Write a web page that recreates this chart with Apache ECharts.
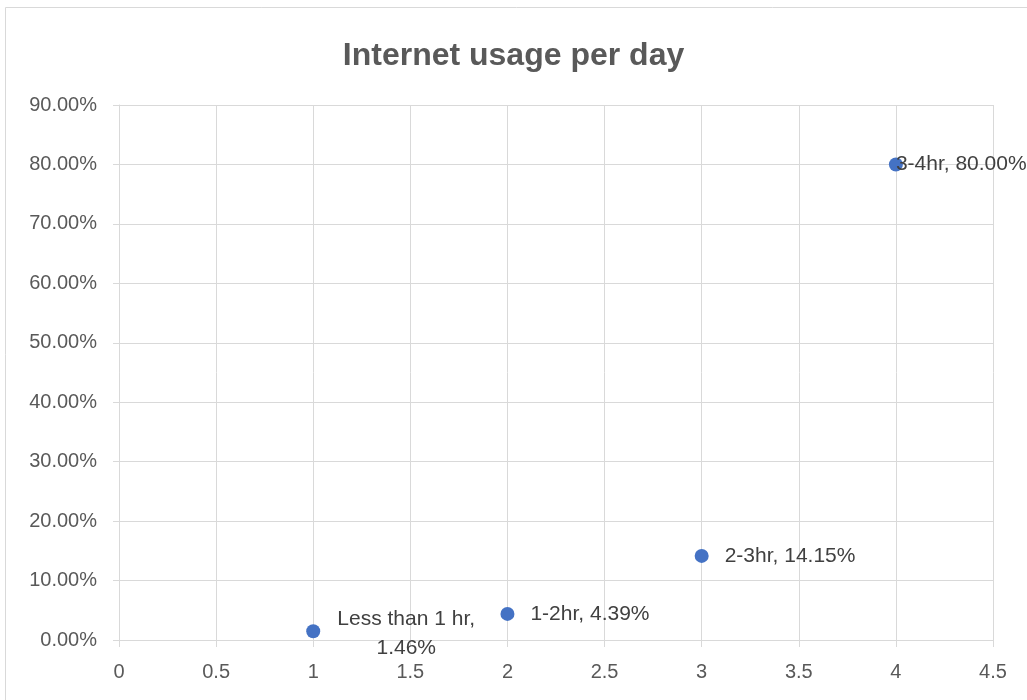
<!DOCTYPE html>
<html>
<head>
<meta charset="utf-8">
<script src="https://cdn.jsdelivr.net/npm/echarts@6/dist/echarts.min.js"></script>
<style>
  html, body { margin: 0; padding: 0; background: #fff; }
  #chart { width: 1027px; height: 700px; }
</style>
</head>
<body>
<div id="chart"></div>
<script>
// Daily internet usage: x position, share of respondents (%), and label text
const categories = ['Less than 1 hr', '1-2hr', '2-3hr', '3-4hr'];
const xValues = [1, 2, 3, 4];
const shares = [1.46, 4.39, 14.15, 80.00];

const chart = echarts.init(document.getElementById('chart'));
const textColor = '#595959';
const labelColor = '#404040';
const gridColor = '#d9d9d9';
const fontFamily = "'Liberation Sans', 'DejaVu Sans', sans-serif";

const points = xValues.map((x, i) => {
  const item = { value: [x, shares[i]], name: categories[i] };
  if (i === 0) {
    item.label = {
      formatter: categories[i] + ',\n' + shares[i].toFixed(2) + '%',
      align: 'center',
      lineHeight: 29,
      offset: [70, 2]
    };
  }
  if (i === xValues.length - 1) {
    item.label = { distance: 0, offset: [-7, 0] };
  }
  return item;
});

chart.setOption({
  animation: false,
  title: {
    text: 'Internet usage per day',
    left: 'center',
    top: 35,
    textStyle: { color: textColor, fontSize: 32, fontWeight: 'bold', fontFamily }
  },
  graphic: [{
    type: 'rect',
    shape: { x: 5.5, y: 7.5, width: 1200, height: 900 },
    style: { fill: 'none', stroke: '#d9d9d9', lineWidth: 1 },
    silent: true
  }],
  grid: { left: 119, right: 34, top: 105, bottom: 60 },
  xAxis: {
    type: 'value',
    min: 0, max: 4.5, interval: 0.5,
    axisLine: { show: true, lineStyle: { color: gridColor } },
    axisTick: { show: true, length: 7, lineStyle: { color: gridColor } },
    splitLine: { show: true, lineStyle: { color: gridColor } },
    axisLabel: { color: textColor, fontSize: 20, fontFamily, margin: 22 }
  },
  yAxis: {
    type: 'value',
    min: 0, max: 90, interval: 10,
    axisLine: { show: true, lineStyle: { color: gridColor } },
    axisTick: { show: true, length: 6, lineStyle: { color: gridColor } },
    splitLine: { show: true, lineStyle: { color: gridColor } },
    axisLabel: {
      color: textColor, fontSize: 20, fontFamily, margin: 22,
      formatter: v => v.toFixed(2) + '%'
    }
  },
  series: [{
    type: 'scatter',
    symbolSize: 14,
    itemStyle: { color: '#4472c4', opacity: 1 },
    data: points,
    label: {
      show: true,
      position: 'right',
      distance: 16,
      color: labelColor,
      fontSize: 21,
      fontFamily,
      formatter: p => p.name + ', ' + p.value[1].toFixed(2) + '%'
    },
    z: 3
  }]
});
</script>
</body>
</html>
